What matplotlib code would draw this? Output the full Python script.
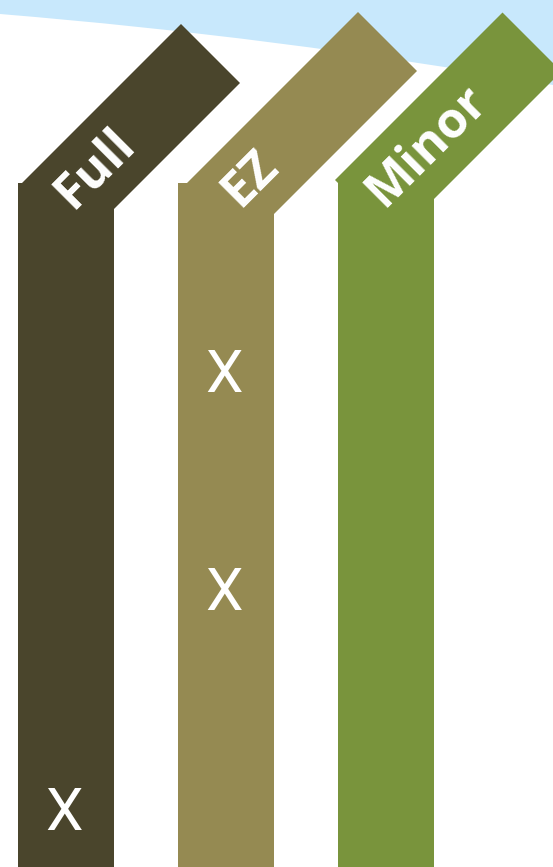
import numpy as np
import matplotlib
matplotlib.use("Agg")
import matplotlib.pyplot as plt
from matplotlib.patches import Polygon, PathPatch
from matplotlib.path import Path

# plan columns and the rows where each plan has an X
plans = ["Full", "EZ", "Minor"]
colors = ["#4a452c", "#958a52", "#79943c"]
row_names = ["row 1", "row 2", "row 3"]
marks = {
    "Full": [0, 0, 1],
    "EZ": [1, 1, 0],
    "Minor": [0, 0, 0],
}

W, H = 553, 867
fig = plt.figure(figsize=(W / 100, H / 100), dpi=100)
ax = fig.add_axes([0, 0, 1, 1])
ax.set_xlim(0, W)
ax.set_ylim(H, 0)
ax.axis("off")

# light blue sky behind the headers
sky = Path([(0, 0), (W, 0), (W, 85), (276, 36.5), (0, 14), (0, 0)],
           [Path.MOVETO, Path.LINETO, Path.LINETO, Path.CURVE3, Path.CURVE3, Path.CLOSEPOLY])
ax.add_patch(PathPatch(sky, facecolor="#c8e8fc", edgecolor="none", zorder=0))

# columns
centers = [66, 226, 386]
col_top = 183
ax.bar(centers, H - col_top, bottom=col_top, width=96, color=colors, zorder=2)

# diagonal header bands, given in (x+y, x-y) coordinates
band_left = [205, 370, 515]
band_w = 118
band_upper = [157, 346, 490]
band_lower = [-165, -5, 155]
label_d = [-74, 72, 281]


def pt(s, d):
    return ((s + d) / 2, (s - d) / 2)


for i, name in enumerate(plans):
    L, R = band_left[i], band_left[i] + band_w
    U, D = band_upper[i], band_lower[i]
    poly = Polygon([pt(L, D), pt(L, U), pt(R, U), pt(R, D)], closed=True,
                   facecolor=colors[i], edgecolor="none", zorder=2)
    ax.add_patch(poly)
    x, y = pt((L + R) / 2, label_d[i])
    ax.text(x, y, name, rotation=45, rotation_mode="anchor", ha="center", va="center",
            color="white", fontsize=36, fontweight="bold", family="Open Sans", zorder=3)

# X marks (baseline sits half a cap height below the row centre)
row_y0, row_step = 370, 219
for i, name in enumerate(plans):
    for r, m in enumerate(marks[name]):
        if m:
            ax.text(centers[i] - 1.5, row_y0 + r * row_step + 21.5, "X", ha="center",
                    va="baseline", color="white", fontsize=43, family="Roboto", zorder=3)

fig.savefig("out.png", dpi=100)
